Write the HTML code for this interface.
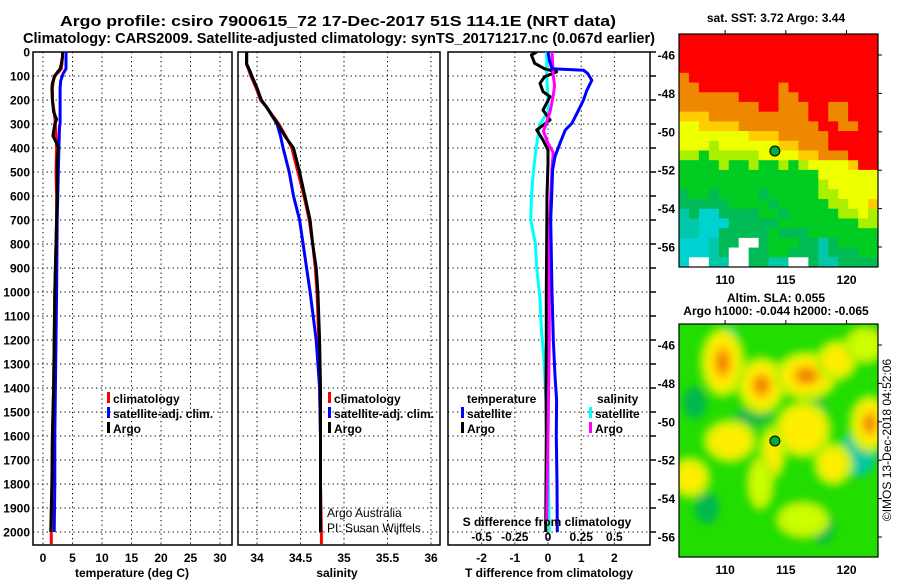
<!DOCTYPE html>
<html><head><meta charset="utf-8">
<style>
html,body{margin:0;padding:0;background:#fff;}
svg{display:block;font-family:"Liberation Sans",sans-serif;}
.t{font-weight:bold;font-size:12px;fill:#000;}
</style></head>
<body>
<svg id="fig" width="900" height="580" viewBox="0 0 900 580" xmlns="http://www.w3.org/2000/svg">
<text x="338" y="26" text-anchor="middle" font-size="15" font-weight="bold" textLength="556" lengthAdjust="spacingAndGlyphs">Argo profile: csiro 7900615_72 17-Dec-2017 51S 114.1E (NRT data)</text>
<text x="339" y="43" text-anchor="middle" font-size="15" font-weight="bold" textLength="632" lengthAdjust="spacingAndGlyphs">Climatology: CARS2009. Satellite-adjusted climatology: synTS_20171217.nc (0.067d earlier)</text>
<g id="plots"></g>
<text x="776" y="22" text-anchor="middle" class="t">sat. SST: 3.72 Argo: 3.44</text>
<text x="776" y="302" text-anchor="middle" class="t">Altim. SLA: 0.055</text>
<text x="776" y="315" text-anchor="middle" class="t">Argo h1000: -0.044 h2000: -0.065</text>
<text transform="translate(891,440) rotate(-90)" text-anchor="middle" font-size="12">©IMOS 13-Dec-2018 04:52:06</text>
</svg>
<script>
// ---------- profile data ----------
const tDepth = [0,20,50,70,85,100,130,150,200,250,280,300,330,350,380,400,450,500,600,700,800,1000,1200,1400,1600,1800,2000];
const tArgo  = [3.3,3.3,3.1,2.9,2.4,2.0,1.6,1.5,1.6,1.8,2.3,2.0,1.8,1.7,2.3,2.6,2.4,2.4,2.4,2.3,2.2,2.0,1.9,1.8,1.6,1.5,1.3];
const tClimDepth = [0,20,50,70,85,100,130,150,200,250,300,400,500,600,700,800,1000,1200,1400,1600,1800,2000,2050];
const tClim  = [3.3,3.3,3.2,3.1,2.6,1.9,1.7,1.6,1.6,1.9,2.1,2.3,2.2,2.3,2.3,2.2,2.0,1.9,1.8,1.6,1.5,1.4,1.4];
const tSatDepth = [0,20,50,70,90,120,150,200,300,310,400,500,700,1000,1200,1400,1600,1800,2000];
const tSat   = [3.9,3.9,3.9,3.9,3.4,3.0,2.9,2.9,2.9,2.8,2.7,2.6,2.4,2.3,2.2,2.1,2.0,2.0,1.9];

const sDepth = [0,50,80,100,150,200,230,270,300,350,400,500,600,700,800,900,1000,1200,1400,1600,1800,2000];
const sArgo  = [33.88,33.88,33.92,33.94,34.0,34.05,34.11,34.18,34.24,34.32,34.42,34.49,34.55,34.61,34.64,34.68,34.70,34.72,34.73,34.73,34.73,34.73];
const sClim  = [33.88,33.88,33.91,33.93,33.99,34.04,34.11,34.19,34.25,34.33,34.40,34.47,34.54,34.60,34.64,34.67,34.69,34.71,34.72,34.73,34.73,34.74];
const sSat   = [33.88,33.88,33.92,33.94,34.0,34.05,34.11,34.18,34.23,34.27,34.30,34.37,34.42,34.49,34.53,34.57,34.61,34.68,34.72,34.73,34.73,34.73];
const sClimDeep = [[2000,34.74],[2050,34.74]];

const dTArgoDepth = [0,12,47,70,83,103,130,165,186,242,283,325,367,408,463,600,800,1000,1200,1400,1600,1800,2000];
const dTArgo = [-0.34,-0.5,-0.4,-0.1,0.26,-0.1,-0.24,-0.15,0.06,-0.15,0.06,-0.34,-0.15,0.0,0.0,-0.03,-0.04,-0.05,-0.05,-0.06,-0.05,-0.06,-0.07];
const dTSatDepth = [0,40,70,76,90,118,160,200,256,297,325,380,436,491,602,700,1000,1200,1350,1450,1600,1800,2000];
const dTSat  = [0.0,0.05,0.12,1.07,1.2,1.32,1.17,1.07,0.87,0.72,0.52,0.36,0.21,0.14,0.11,0.08,0.12,0.16,0.21,0.26,0.25,0.27,0.28];
const dSSatDepth = [0,100,200,250,300,400,500,600,700,800,900,1030,1160,1280,1400,1500,1700,2000];
const dSSat  = [-0.01,-0.01,0.0,0.0,-0.06,-0.09,-0.11,-0.125,-0.13,-0.095,-0.085,-0.06,-0.05,-0.03,-0.02,-0.01,0.0,0.01];
const dSArgoDepth = [0,100,140,180,250,310,330,380,420,480,600,800,1200,1600,1950];
const dSArgo = [0.03,0.04,0.05,0.04,0.015,-0.02,-0.035,0.0,0.04,0.03,0.02,0.01,0.01,0.0,-0.01];

const depthTicks = [0,100,200,300,400,500,600,700,800,900,1000,1100,1200,1300,1400,1500,1600,1700,1800,1900,2000];
const tTicks = [0,5,10,15,20,25,30];
const sTicks = [34,34.5,35,35.5,36];
const dTTicks = [-2,-1,0,1,2];
const dSTicks = [-0.5,-0.25,0,0.25,0.5];
const dSTickLabels = ["-0.5","-0.25","0","0.25","0.5"];

// ---------- map data ----------
const sstRows = [
"RRRRRRRRRRRRRRRRRRRR",
"RRRRRRRRRRRRRRRRRRRR",
"RRRRRRRRRRRRRRRRRRRR",
"RRRRRRRRRRRRRRRRRRRR",
"ORRRRRRRRRRRRRRRRRRR",
"OORRRRRRRRORRRRRRRRR",
"OOOOOORRRROORRRRRRRR",
"OOOOOOOORROOORROORRR",
"YYYOOOOOOOOOORROORRR",
"yyYYYYOOOOOOOORROORR",
"yyyyyyyYYYOOOOORRRRR",
"yyyLyyyyyyYYOOORRRRR",
"LLGLLLLLyyyyYYOOORRR",
"GGGGLGGLGGLGLyyyyYRR",
"GGGGGGGGGGGGGGyyyyyy",
"GGGGGGGGGGGGGGLyyyyy",
"gGGgGGGGgGGGGGLLyyyy",
"gggggGGGGgGGGGGLLyyY",
"TgCCggggGGgGGGGGLLyL",
"TTCCCgggggGGGGGGGGLL",
"TTCCgggggGgggGGGGGGG",
"CCCTggWWgGGGggTgGGGG",
"CCCTgWWggGGgggTgggGG",
"CWWTTWWggTTWWgTTgggg"];
const sstColors = {R:"#ff0000",O:"#ee8800",Y:"#ffcc00",y:"#eeff00",L:"#aaee00",G:"#00cc22",g:"#00bb55",T:"#00c8a8",C:"#00d2d2",W:"#ffffff"};
const blobLon = [109.8,113.0,116.7,119.2,121.9,116.4,110.4,107.1,118.9,113.9,116.4,112.9,121.5];
const blobLat = [-46.9,-48.1,-47.6,-46.8,-50.1,-50.4,-51.0,-52.9,-52.2,-51.6,-55.1,-53.2,-46.0];
const blobLevel = [3,3,3,2,3,2,2,2,2,2,1,1,1];
const blobRx = [16,18,25,14,14,22,20,14,13,7,20,7,14];
const blobRy = [28,22,18,14,22,22,15,14,15,20,12,20,12];
const tealLon = [121.0,110.2,107.5,117.5,113.0,108.5,118.0,111.5];
const tealLat = [-51.6,-45.8,-49.0,-49.6,-49.3,-54.5,-55.5,-50.2];

const NS="http://www.w3.org/2000/svg";
const fig=document.getElementById('fig');
const plots=document.getElementById('plots');
function mk(tag,attrs,parent){const e=document.createElementNS(NS,tag);for(const k in attrs)e.setAttribute(k,attrs[k]);(parent||plots).appendChild(e);return e;}

const yTop=52, yBot=545;
function yD(d){return yTop+d*0.24;}
const panels=[
 {x0:33,x1:232,f:v=>43+v*5.9},
 {x0:238,x1:440,f:v=>257+(v-34)*87},
 {x0:448,x1:650,f:v=>548+v*33.2}];
const fS=v=>548+v*132.8;

const defs=mk('defs',{});
panels.forEach((p,i)=>{const c=mk('clipPath',{id:'pc'+i},defs);mk('rect',{x:p.x0,y:yTop,width:p.x1-p.x0,height:yBot-yTop},c);});

panels.forEach((p,i)=>{
 const g=mk('g',{});
 
 
 depthTicks.forEach(d=>{
  const l=mk('line',{x1:p.x0,x2:p.x1,y1:yD(d),y2:yD(d),stroke:'#000','stroke-dasharray':'1.3,3.2','stroke-width':1},g);
  
  
 });
 const ticks=i===0?tTicks:i===1?sTicks:dTTicks;
 ticks.forEach(t=>{
  const x=p.f(t);
  const l=mk('line',{x1:x,x2:x,y1:yTop,y2:yBot,stroke:'#000','stroke-dasharray':'1.3,3.2','stroke-width':1},g);
  
  
  const tx=mk('text',{x:x,y:562,'text-anchor':'middle',class:'t'},g);
  tx.textContent=String(t);
  
  
 });
 const r=mk('rect',{x:p.x0,y:yTop,width:p.x1-p.x0,height:yBot-yTop,fill:'none',stroke:'#000','stroke-width':1.5},g);
 
 
});
depthTicks.forEach(d=>{
 const tx=mk('text',{x:30,y:yD(d)+4.5,'text-anchor':'end',class:'t'});
 tx.textContent=String(d);
 
 
 const tk=mk('line',{x1:650,x2:656,y1:yD(d),y2:yD(d),stroke:'#000','stroke-width':1.5});
 
 
});

function series(depths,vals,fx,color,clip,name){
 const pts=depths.map((d,k)=>fx(vals[k]).toFixed(1)+','+yD(d).toFixed(1)).join(' ');
 const pl=mk('polyline',{points:pts,fill:'none',stroke:color,'stroke-width':3,'stroke-linejoin':'round','clip-path':'url(#'+clip+')'});
 
 
}
const f0=panels[0].f,f1=panels[1].f,f2=panels[2].f;
series(tClimDepth,tClim,f0,'#ff0000','pc0','temp-climatology-line');
series(tSatDepth,tSat,f0,'#0000ff','pc0','temp-satellite-line');
series(tDepth,tArgo,f0,'#000000','pc0','temp-argo-line');
series(sDepth,sClim,f1,'#ff0000','pc1','sal-climatology-line');
series(sClimDeep.map(a=>a[0]),sClimDeep.map(a=>a[1]),f1,'#ff0000','pc1','sal-climatology-deep-line');
series(sDepth,sSat,f1,'#0000ff','pc1','sal-satellite-line');
series(sDepth,sArgo,f1,'#000000','pc1','sal-argo-line');
series(dSSatDepth,dSSat,fS,'#00ffff','pc2','sdiff-satellite-line');
series(dTArgoDepth,dTArgo,f2,'#000000','pc2','tdiff-argo-line');
series(dSArgoDepth,dSArgo,fS,'#ff00ff','pc2','sdiff-argo-line');
series(dTSatDepth,dTSat,f2,'#0000ff','pc2','tdiff-satellite-line');

function leg(x,y,color,label,name){
 const g=mk('g',{});
 
 
 mk('rect',{x:x,y:y-6,width:3,height:11,fill:color},g);
 const t=mk('text',{x:x+6,y:y+5,class:'t'},g);t.textContent=label;
}
leg(107,398,'#ff0000','climatology','legend-temp-climatology');
leg(107,413,'#0000ff','satellite-adj. clim.','legend-temp-satellite');
leg(107,428,'#000000','Argo','legend-temp-argo');
leg(328,398,'#ff0000','climatology','legend-sal-climatology');
leg(328,413,'#0000ff','satellite-adj. clim.','legend-sal-satellite');
leg(328,428,'#000000','Argo','legend-sal-argo');
leg(461,413,'#0000ff','satellite','legend-tdiff-satellite');
leg(461,428,'#000000','Argo','legend-tdiff-argo');
leg(589,413,'#00ffff','satellite','legend-sdiff-satellite');
leg(589,428,'#ff00ff','Argo','legend-sdiff-argo');
function txt(x,y,s,name,extra){const t=mk('text',Object.assign({x:x,y:y,class:'t'},extra||{}));t.textContent=s;return t;}
txt(467,403,'temperature','legend-temperature-heading');
txt(597,403,'salinity','legend-salinity-heading');
txt(547,526,'S difference from climatology','sdiff-axis-title',{'text-anchor':'middle'});
dSTicks.forEach((v,k)=>txt(fS(v),541,dSTickLabels[k],'sdiff-tick-label',{'text-anchor':'middle'}));
txt(132,577,'temperature (deg C)','temp-axis-title',{'text-anchor':'middle'});
txt(337,577,'salinity','sal-axis-title',{'text-anchor':'middle'});
txt(549,577,'T difference from climatology','tdiff-axis-title',{'text-anchor':'middle'});
const a1=mk('text',{x:327,y:517,'font-size':12,fill:'#000'});a1.textContent='Argo Australia';

const a2=mk('text',{x:327,y:532,'font-size':12,fill:'#000'});a2.textContent='PI: Susan Wijffels';


// ---------- maps ----------
const mx0=679,mx1=878;
const lonX=lon=>mx0+(lon-106.2)*12.14;
const maps=[{y0:34,y1:267,latY:lat=>55+(-46-lat)*19.2,name:'sst-map'},{y0:324,y1:557,latY:lat=>345+(-46-lat)*19.2,name:'sla-map'}];
maps.forEach((m,i)=>{const c=mk('clipPath',{id:'mc'+i},defs);mk('rect',{x:mx0,y:m.y0,width:mx1-mx0,height:m.y1-m.y0},c);});
const flt=mk('filter',{id:'blur',x:'-50%',y:'-50%',width:'200%',height:'200%'},defs);
mk('feGaussianBlur',{stdDeviation:4},flt);

const m0=maps[0];
const sg=mk('g',{'clip-path':'url(#mc0)'});


const cw=(mx1-mx0)/sstRows[0].length, ch=(m0.y1-m0.y0)/sstRows.length;
sstRows.forEach((row,r)=>{[...row].forEach((c,k)=>{
 const cell=mk('rect',{x:(mx0+k*cw).toFixed(2),y:(m0.y0+r*ch).toFixed(2),width:(cw+0.5).toFixed(2),height:(ch+0.5).toFixed(2),fill:sstColors[c]},sg);
 
 
});});
const m1=maps[1];
const bg=mk('g',{'clip-path':'url(#mc1)'});


mk('rect',{x:mx0,y:m1.y0,width:mx1-mx0,height:m1.y1-m1.y0,fill:'#22dd00'},bg);
const bl=mk('g',{filter:'url(#blur)'},bg);
tealLon.forEach((lon,k)=>{mk('ellipse',{cx:lonX(lon),cy:m1.latY(tealLat[k]),rx:k===0?18:12,ry:k===0?24:16,fill:k<2?'#00c8a0':'#00b850'},bl);});
blobLon.forEach((lon,k)=>{
 const cx=lonX(lon),cy=m1.latY(blobLat[k]);
 mk('ellipse',{cx:cx,cy:cy,rx:blobRx[k]+7,ry:blobRy[k]+7,fill:'#bbf000'},bl);
 mk('ellipse',{cx:cx,cy:cy,rx:blobRx[k],ry:blobRy[k],fill:blobLevel[k]>=2?'#ffee00':'#ccff00'},bl);
 if(blobLevel[k]>=3){mk('ellipse',{cx:cx,cy:cy,rx:blobRx[k]*0.6,ry:blobRy[k]*0.6,fill:'#ffbb00'},bl);
 mk('ellipse',{cx:cx,cy:cy,rx:blobRx[k]*0.35,ry:blobRy[k]*0.35,fill:'#f08000'},bl);}
});

const mapLonTicks=[110,115,120], mapLatTicks=[-46,-48,-50,-52,-54,-56];
maps.forEach((m,i)=>{
 const g=mk('g',{});
 
 
 mk('circle',{cx:lonX(114.1),cy:m.latY(-51),r:5,fill:'#00aa33',stroke:'#000','stroke-width':1},g);
 mk('rect',{x:mx0,y:m.y0,width:mx1-mx0,height:m.y1-m.y0,fill:'none',stroke:'#000','stroke-width':1.2},g);
 mapLonTicks.forEach(lon=>{
  const x=lonX(lon);
  mk('line',{x1:x,x2:x,y1:m.y0,y2:m.y0-4,stroke:'#000'},g);
  const t=mk('text',{x:x,y:m.y1+17,'text-anchor':'middle',class:'t'},g);t.textContent=String(lon);
 });
 mapLatTicks.forEach(lat=>{
  const y=m.latY(lat);
  mk('line',{x1:mx1,x2:mx1+4,y1:y,y2:y,stroke:'#000'},g);
  const t=mk('text',{x:675,y:y+4.5,'text-anchor':'end',class:'t'},g);t.textContent=String(lat);
 });
});
</script>
</body></html>
